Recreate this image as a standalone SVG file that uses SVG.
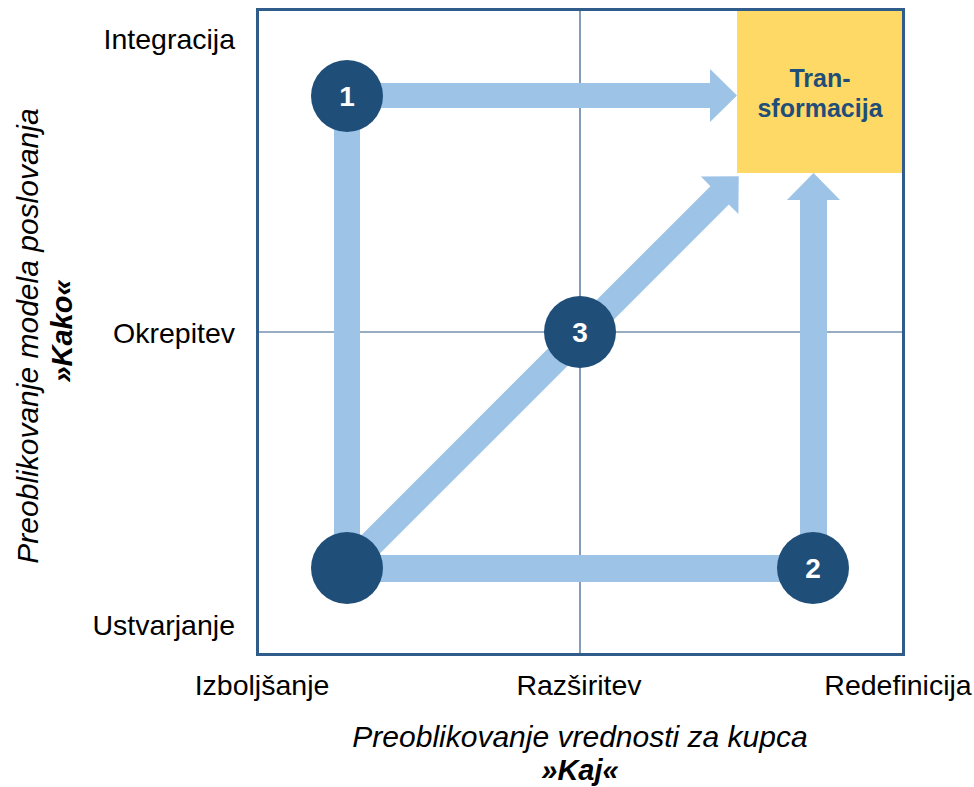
<svg xmlns="http://www.w3.org/2000/svg" width="974" height="787" viewBox="0 0 974 787">
  <style>
    .lbl { font-family: "Liberation Sans", Arial, sans-serif; font-size: 28.5px; fill: #000; }
    .ttl { font-family: "Liberation Sans", Arial, sans-serif; font-size: 30px; font-style: italic; fill: #000; }
    .ttlb { font-family: "Liberation Sans", Arial, sans-serif; font-size: 29px; font-style: italic; font-weight: bold; fill: #000; }
    .num { font-family: "Liberation Sans", Arial, sans-serif; font-size: 28px; font-weight: bold; fill: #fff; text-anchor: middle; }
    .band { fill: #9DC3E6; }
    .dot { fill: #1F4E79; }
    .grid { stroke: #2F5C8A; stroke-width: 1.2; fill: none; }
  </style>

  <rect width="974" height="787" fill="#fff"/>

  <!-- chart frame and quadrant lines -->
  <g id="frame">
    <rect x="257.5" y="9.5" width="646" height="645" fill="#fff" stroke="#2F5C8A" stroke-width="3"/>
    <line class="grid" x1="580" y1="9" x2="580" y2="655"/>
    <line class="grid" x1="257" y1="332" x2="904" y2="332"/>
  </g>

  <!-- target cell -->
  <g id="transformacija">
    <rect x="737" y="11" width="165" height="162" fill="#FFD966"/>
    <text x="820" y="87" font-family="'Liberation Sans', Arial, sans-serif" font-size="25" font-weight="bold" fill="#1F4E79" text-anchor="middle">Tran-</text>
    <text x="820" y="117" font-family="'Liberation Sans', Arial, sans-serif" font-size="25" font-weight="bold" fill="#1F4E79" text-anchor="middle">sformacija</text>
  </g>

  <!-- paths between the stages -->
  <g id="connectors">
    <!-- left column, bottom to 1 -->
    <rect class="band" x="334" y="93" width="26" height="475"/>
    <!-- bottom row, start to 2 -->
    <rect class="band" x="347" y="555" width="466" height="27"/>
    <!-- 1 to target -->
    <polygon class="band" points="347,83 710,83 710,69 737,95.5 710,122 710,108 347,108"/>
    <!-- 2 to target -->
    <polygon class="band" points="800,568 800,200 787,200 813.5,173 840,200 827,200 827,568"/>
    <!-- diagonal through 3 to target -->
    <polygon class="band" transform="translate(347,568) rotate(-45)" points="0,-13 527,-13 527,-26.5 554,0 527,26.5 527,13 0,13"/>
  </g>

  <!-- stage markers -->
  <g id="node-start">
    <circle class="dot" cx="347" cy="568" r="36"/>
  </g>
  <g id="node-1">
    <circle class="dot" cx="347" cy="96" r="36"/>
    <text class="num" x="347" y="106">1</text>
  </g>
  <g id="node-2">
    <circle class="dot" cx="813" cy="568" r="36"/>
    <text class="num" x="813" y="578">2</text>
  </g>
  <g id="node-3">
    <circle class="dot" cx="580" cy="332" r="36"/>
    <text class="num" x="580" y="342">3</text>
  </g>

  <!-- axis labels -->
  <g id="y-labels">
    <text class="lbl" x="235" y="49" text-anchor="end">Integracija</text>
    <text class="lbl" x="235" y="343" text-anchor="end">Okrepitev</text>
    <text class="lbl" x="235" y="635" text-anchor="end">Ustvarjanje</text>
  </g>
  <g id="x-labels">
    <text class="lbl" x="262" y="695" text-anchor="middle">Izboljšanje</text>
    <text class="lbl" x="579" y="695" text-anchor="middle">Razširitev</text>
    <text class="lbl" x="898" y="695" text-anchor="middle">Redefinicija</text>
  </g>

  <!-- axis titles -->
  <g id="x-title">
    <text class="ttl" x="580" y="747" text-anchor="middle">Preoblikovanje vrednosti za kupca</text>
    <text class="ttlb" x="580" y="780" text-anchor="middle">»Kaj«</text>
  </g>
  <g id="y-title">
    <text class="ttl" transform="translate(38,336) rotate(-90)" text-anchor="middle">Preoblikovanje modela poslovanja</text>
    <text class="ttlb" transform="translate(72,331) rotate(-90)" text-anchor="middle" font-size="32">»Kako«</text>
  </g>
</svg>
